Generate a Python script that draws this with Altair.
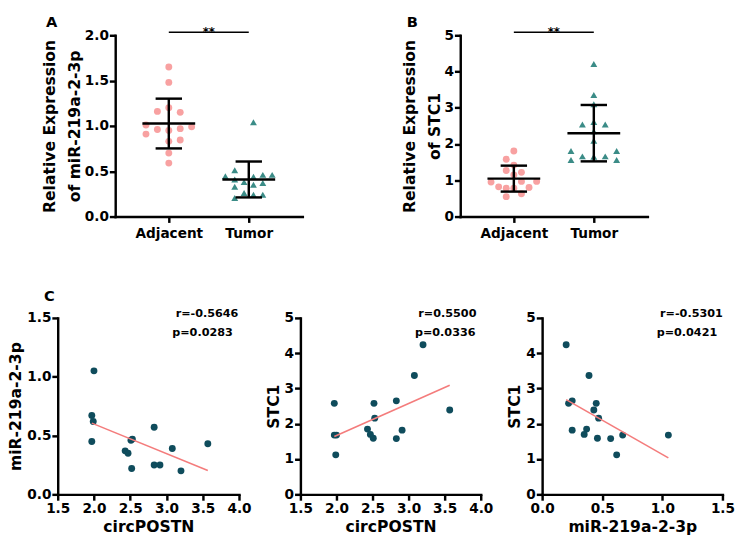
import altair as alt
import pandas as pd

FONT = "DejaVu Sans"
PINK = "#F8A1A1"
TEAL = "#3B8C87"
DARK = "#0F4C5C"
LINE = "#F47C7C"

groups = ["Adjacent", "Tumor"]

# Panel A: miR-219a-2-3p
a_adjacent = [1.65, 1.48, 1.20, 1.16, 1.15, 1.01, 0.91, 0.96, 0.95, 0.97, 0.99, 0.83, 0.845, 0.70, 0.59]
a_adjacent_slot = [0, 0, 0, -1, 1, -2, -2, -1, 0, 1, 2, 0, 1, 0, 0]
a_tumor = [1.04, 0.445, 0.51, 0.41, 0.33, 0.205, 0.38, 0.26, 0.44, 0.35, 0.24, 0.46, 0.37, 0.24, 0.46]
a_tumor_slot = [0.5, -2.5, -1.5, -1.5, -1.5, -1.5, -0.5, -0.5, 0.5, 0.5, 0.5, 1.5, 1.5, 1.5, 2.5]

# Panel B: STC1
b_adjacent = [1.81, 1.58, 1.42, 1.27, 1.22, 1.15, 0.95, 0.97, 0.97, 0.82, 0.78, 0.80, 0.55, 0.63, 0.78]
b_adjacent_slot = [0, -1, 0, -1, 1, 0, -3, 1, 3, -2, 0, 2, -1, 1, -1]
b_tumor = [4.21, 3.35, 3.10, 2.54, 2.61, 2.54, 2.35, 2.09, 1.81, 1.81, 1.66, 1.65, 1.66, 1.56, 1.56]
b_tumor_slot = [0, 0, 0, -1, 0, 1, 0, 0, -2, 2, -1, 0, 1, -2, 2]

# Panel C: correlations (same 15 tumour samples)
circ_postn = [1.97, 1.97, 2.00, 1.99, 2.52, 2.53, 2.43, 2.47, 2.51, 2.83, 2.83, 2.91, 3.08, 3.20, 3.57]
mir_219 = [0.45, 0.67, 1.05, 0.62, 0.22, 0.47, 0.37, 0.35, 0.46, 0.25, 0.57, 0.25, 0.39, 0.20, 0.43]
stc1 = [2.58, 1.68, 1.68, 1.12, 2.58, 2.16, 1.85, 1.70, 1.59, 2.65, 1.58, 1.82, 3.37, 4.24, 2.39]
stats_r = ["r=-0.5646", "r=0.5500", "r=-0.5301"]
stats_p = ["p=0.0283", "p=0.0336", "p=0.0421"]

def group_df(adj, adj_slot, tum, tum_slot):
    rows = []
    for v, s in zip(adj, adj_slot):
        rows.append({"group": "Adjacent", "gi": 1, "value": v, "slot": s})
    for v, s in zip(tum, tum_slot):
        rows.append({"group": "Tumor", "gi": 2, "value": v, "slot": s})
    return pd.DataFrame(rows)

one = pd.DataFrame({"k": [0]})

def pin(x, y):
    # invisible anchor that fixes the layout bounds
    return alt.Chart(one).mark_rule(opacity=0, strokeWidth=1).encode(
        x=alt.value(x), x2=alt.value(x + 1), y=alt.value(y))

def dot_panel(df, ymax, ystep, yfmt, ytitle, sp_adj, sp_tum, letter, pins=()):
    W, H = 192, 186
    xsc = alt.Scale(domain=[0.33, 2.67], nice=False, zero=False)
    ysc = alt.Scale(domain=[0, ymax], nice=False)
    xax = alt.Axis(values=[1, 2], labelExpr="datum.value == 1 ? 'Adjacent' : 'Tumor'",
                   labelFontSize=14, labelPadding=4, labelFlush=False, labelOverlap=False, title=None)
    yvals = [round(i * ystep, 2) for i in range(int(round(ymax / ystep)) + 1)]
    yax = alt.Axis(values=yvals, format=yfmt, labelFontSize=14, labelPadding=1, labelOverlap=False,
                   labelFlush=False, titlePadding=2, titleLineHeight=25, title=ytitle)
    base = alt.Chart(df)
    pts = base.transform_calculate(
        xpos=f"datum.gi + datum.slot * (datum.gi == 1 ? {sp_adj} : {sp_tum})"
    ).mark_point(filled=True, opacity=1, size=50).encode(
        x=alt.X("xpos:Q", scale=xsc, axis=xax),
        y=alt.Y("value:Q", scale=ysc, axis=yax),
        shape=alt.Shape("group:N", scale=alt.Scale(domain=groups, range=["circle", "triangle-up"]), legend=None),
        color=alt.Color("group:N", scale=alt.Scale(domain=groups, range=[PINK, TEAL]), legend=None),
    )
    stats = base.transform_aggregate(
        mean="mean(value)", sd="stdev(value)", groupby=["gi"]
    ).transform_calculate(
        lo="datum.mean - datum.sd", hi="datum.mean + datum.sd",
        m1="datum.gi - 0.33", m2="datum.gi + 0.33",
        c1="datum.gi - 0.165", c2="datum.gi + 0.165",
    )
    X = lambda f: alt.X(f, scale=xsc, axis=xax)
    Y = lambda f: alt.Y(f, scale=ysc, axis=yax)
    vert = stats.mark_rule(color="black", strokeWidth=2.5).encode(x=X("gi:Q"), y=Y("lo:Q"), y2="hi:Q")
    mean = stats.mark_rule(color="black", strokeWidth=2.5).encode(x=X("m1:Q"), x2="m2:Q", y=Y("mean:Q"))
    cap_hi = stats.mark_rule(color="black", strokeWidth=2.5).encode(x=X("c1:Q"), x2="c2:Q", y=Y("hi:Q"))
    cap_lo = stats.mark_rule(color="black", strokeWidth=2.5).encode(x=X("c1:Q"), x2="c2:Q", y=Y("lo:Q"))
    sig = alt.Chart(one).mark_rule(color="black", strokeWidth=1.5).encode(
        x=alt.datum(1, scale=xsc, axis=xax), x2=alt.datum(2), y=alt.value(-3))
    stars = alt.Chart(one).mark_text(text="**", font=FONT, fontWeight="bold", fontSize=12,
                                     baseline="alphabetic", align="center").encode(
        x=alt.datum(1.5, scale=xsc, axis=xax), y=alt.value(1))
    lab = alt.Chart(one).mark_text(text=letter, font=FONT, fontWeight="bold", fontSize=15,
                                   baseline="top", align="left").encode(
        x=alt.value(-71 if letter == "A" else -55), y=alt.value(-20))
    layers = [pts, vert, mean, cap_hi, cap_lo, sig, stars, lab]
    for (px, py) in pins:
        layers.append(pin(px, py))
    return alt.layer(*layers).properties(width=W, height=H)


def scatter_panel(xvals, yvals, xdom, xticks, ydom, yticks, yfmt, xtitle, ytitle, r_txt, p_txt, W, letter=None, pins=()):
    H = 181
    df = pd.DataFrame({"x": xvals, "y": yvals})
    xsc = alt.Scale(domain=xdom, nice=False, zero=False)
    ysc = alt.Scale(domain=ydom, nice=False)
    xax = alt.Axis(values=xticks, format=".1f", labelFontSize=14, labelPadding=2, labelFlush=False,
                   labelOverlap=False, titlePadding=3, title=xtitle, titleFontSize=16)
    yax = alt.Axis(values=yticks, format=yfmt, labelFontSize=14, labelPadding=1, labelOverlap=False,
                   labelFlush=False, titlePadding=3, title=ytitle, titleFontSize=16)
    base = alt.Chart(df)
    pts = base.mark_circle(color=DARK, opacity=1, size=50).encode(
        x=alt.X("x:Q", scale=xsc, axis=xax), y=alt.Y("y:Q", scale=ysc, axis=yax))
    reg = base.transform_regression("x", "y").mark_line(color=LINE, strokeWidth=1.6).encode(
        x=alt.X("x:Q", scale=xsc, axis=xax), y=alt.Y("y:Q", scale=ysc, axis=yax))
    rt = alt.Chart(one).mark_text(text=r_txt, font=FONT, fontWeight="bold", fontSize=11.5,
                                  align="left", baseline="alphabetic").encode(x=alt.value(121), y=alt.value(-1))
    pt = alt.Chart(one).mark_text(text=p_txt, font=FONT, fontWeight="bold", fontSize=11.5,
                                  align="left", baseline="alphabetic").encode(x=alt.value(117.5), y=alt.value(19))
    layers = [pts, reg, rt, pt]
    if letter:
        layers.append(alt.Chart(one).mark_text(text=letter, font=FONT, fontWeight="bold", fontSize=15,
                                               baseline="top", align="left").encode(x=alt.value(-14), y=alt.value(-29)))
    for (px, py) in pins:
        layers.append(pin(px, py))
    return alt.layer(*layers).properties(width=W, height=H)


def spacer(w, h):
    return alt.Chart(one).mark_point(opacity=0).encode(x=alt.value(0), y=alt.value(0)).properties(width=w, height=h)


# pins: top of page (rel. to A), bottom of row 1 (page y~250), left of page, top of row 2 (page y~270)
panel_a = dot_panel(group_df(a_adjacent, a_adjacent_slot, a_tumor, a_tumor_slot), 2.0, 0.5, ".1f",
                    ["Relative Expression", "of miR-219a-2-3p"], 0.1427, 0.117, "A",
                    pins=[(0, -20.2), (0, 221)])
panel_b = dot_panel(group_df(b_adjacent, b_adjacent_slot, b_tumor, b_tumor_slot), 5, 1, "d",
                    ["Relative Expression", "of STC1"], 0.095, 0.1427, "B")

c1 = scatter_panel(circ_postn, mir_219, [1.5, 4.0], [1.5, 2.0, 2.5, 3.0, 3.5, 4.0], [0, 1.5], [0, 0.5, 1.0, 1.5], ".1f",
                   "circPOSTN", "miR-219a-2-3p", stats_r[0], stats_p[0], 186, letter="C",
                   pins=[(-46.5, 0), (0, -48.5)])
c2 = scatter_panel(circ_postn, stc1, [1.5, 4.0], [1.5, 2.0, 2.5, 3.0, 3.5, 4.0], [0, 5], [0, 1, 2, 3, 4, 5], "d",
                   "circPOSTN", "STC1", stats_r[1], stats_p[1], 185)
c3 = scatter_panel(mir_219, stc1, [0, 1.5], [0, 0.5, 1.0, 1.5], [0, 5], [0, 1, 2, 3, 4, 5], "d",
                   "miR-219a-2-3p", "STC1", stats_r[2], stats_p[2], 185)

row1 = alt.hconcat(spacer(1, 186), panel_a, spacer(46, 186), panel_b, spacing=58, bounds="flush")
row2 = alt.hconcat(c1, c2, c3, spacing=63, bounds="flush")

chart = alt.vconcat(row1, row2, spacing=20, bounds="full").properties(
    padding={"left": 0, "top": 0, "right": 5, "bottom": 5}
).configure_view(strokeWidth=0).configure_axis(
    grid=False, domainColor="black", domainWidth=2.5, domainCap="square",
    tickColor="black", tickWidth=2.5, tickSize=6,
    labelFont=FONT, labelFontWeight="bold", labelColor="black",
    titleFont=FONT, titleFontWeight="bold", titleColor="black", titleFontSize=16,
)

chart.save("out.html", embed_options={"renderer": "svg", "actions": False})
